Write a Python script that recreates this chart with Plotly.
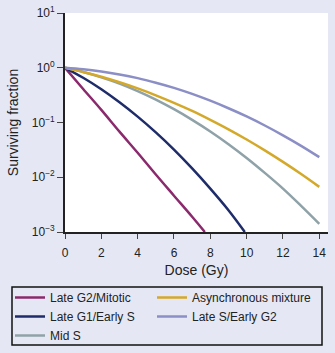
import plotly.graph_objects as go

# Dose (Gy) sample points per curve
dose_g2m = [0, 1, 2, 3, 4, 5, 6, 7, 7.7]
sf_g2m = [1, 0.41, 0.17, 0.068, 0.028, 0.0112, 0.0046, 0.0019, 0.001]

dose_g1s = [0, 1, 2, 3, 4, 5, 6, 7, 8, 9, 9.9]
sf_g1s = [1, 0.656, 0.405, 0.234, 0.128, 0.066, 0.032, 0.0145, 0.0062, 0.0025, 0.001]

dose_full = [0, 1, 2, 3, 4, 5, 6, 7, 8, 9, 10, 11, 12, 13, 14]
sf_mids = [1, 0.836, 0.668, 0.513, 0.374, 0.262, 0.175, 0.112, 0.0687, 0.0402,
           0.0225, 0.0120, 0.0062, 0.0030, 0.00141]
sf_async = [1, 0.839, 0.686, 0.543, 0.419, 0.314, 0.229, 0.163, 0.112, 0.0752,
            0.049, 0.031, 0.0191, 0.01146, 0.00667]
sf_lates = [1, 0.94, 0.855, 0.755, 0.646, 0.533, 0.429, 0.333, 0.25, 0.182,
            0.129, 0.0881, 0.0583, 0.0375, 0.0233]

x_ticks = [0, 2, 4, 6, 8, 10, 12, 14]
y_ticks = [0.001, 0.01, 0.1, 1, 10]
y_tick_text = ["10<sup>−3</sup>", "10<sup>−2</sup>", "10<sup>−1</sup>", "10<sup>0</sup>", "10<sup>1</sup>"]

series = [
    ("Late G2/Mitotic", dose_g2m, sf_g2m, "#8a2a6c", "legend"),
    ("Late G1/Early S", dose_g1s, sf_g1s, "#1e2c6a", "legend"),
    ("Mid S", dose_full, sf_mids, "#8fa2a8", "legend"),
    ("Asynchronous mixture", dose_full, sf_async, "#d4a92a", "legend2"),
    ("Late S/Early G2", dose_full, sf_lates, "#8b8fc6", "legend2"),
]

fig = go.Figure()
for name, x, y, c, lg in series:
    fig.add_trace(go.Scatter(x=x, y=y, name=name, mode="lines", legend=lg,
                             line=dict(color=c, width=2.5, shape="spline")))

W, H = 335, 353
ML, MR, MT, MB = 65, 7, 13, 121
pw, ph = W - ML - MR, H - MT - MB

def px_x(p):
    return (p - ML) / pw

def px_y(p):
    return (H - MB - p) / ph

bg = "#e5e8f4"
leg_common = dict(orientation="v", xanchor="left", yanchor="top",
                  bgcolor="rgba(0,0,0,0)", borderwidth=0, tracegroupgap=0,
                  font=dict(size=12, color="#222"), itemwidth=30)
fig.update_layout(
    width=W, height=H,
    margin=dict(l=ML, r=MR, t=MT, b=MB, autoexpand=False),
    paper_bgcolor=bg, plot_bgcolor="white",
    font=dict(family="Liberation Sans, Arial, sans-serif", size=12, color="#222"),
    showlegend=True,
    legend=dict(x=px_x(10), y=px_y(283), **leg_common),
    legend2=dict(x=px_x(152), y=px_y(283), **leg_common),
    xaxis=dict(range=[0, 14.48], tickvals=x_ticks, showgrid=False, zeroline=False,
               showline=True, linecolor="#222", linewidth=1.8, ticks="outside",
               ticklen=5, tickcolor="#444", ticklabelstandoff=4,
               title=dict(text="Dose (Gy)", standoff=6)),
    yaxis=dict(type="log", range=[-3, 1], tickvals=y_ticks, ticktext=y_tick_text,
               showgrid=False, zeroline=False, showline=True, linecolor="#222",
               linewidth=1.8, ticks="outside", ticklen=6, tickcolor="#444",
               title=dict(text="Surviving fraction", standoff=10)),
    shapes=[dict(type="rect", xref="paper", yref="paper",
                 x0=px_x(12), x1=px_x(322), y0=px_y(345), y1=px_y(287),
                 line=dict(color="#111", width=1.5), fillcolor="rgba(0,0,0,0)")],
)

fig.write_html("out.html")
